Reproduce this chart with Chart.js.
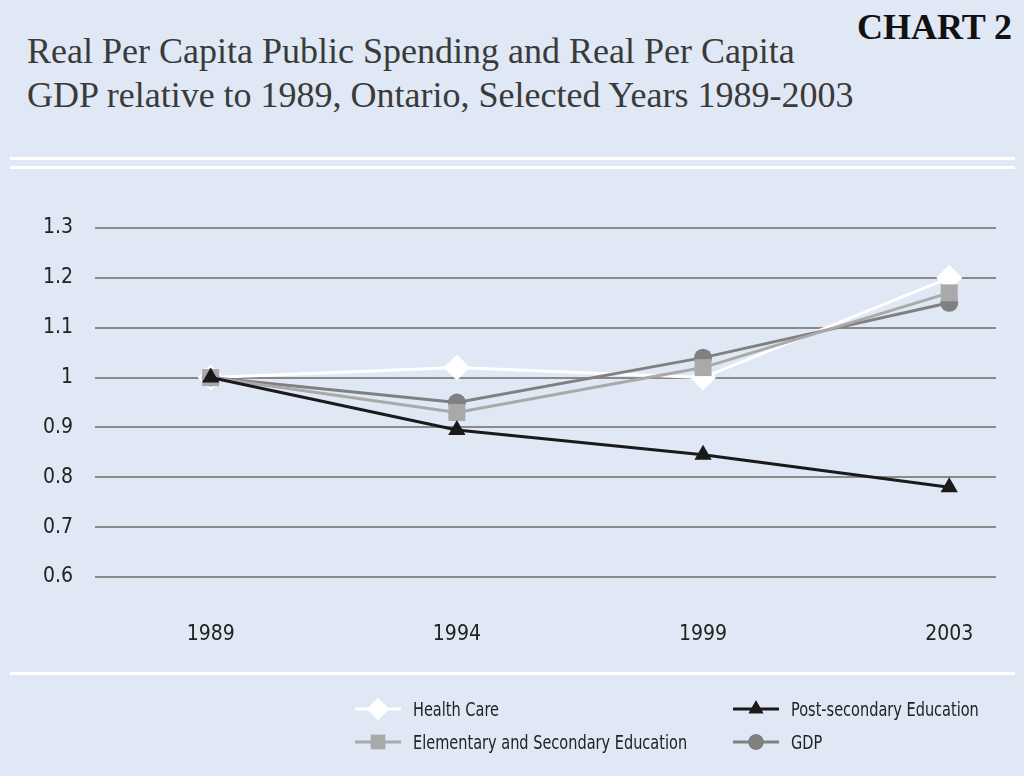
<!DOCTYPE html>
<html>
<head>
<meta charset="utf-8">
<script src="https://cdn.jsdelivr.net/npm/chart.js@4/dist/chart.umd.min.js"></script>
<style>
    html, body { margin: 0; padding: 0; }
    body { width: 1024px; height: 776px; background: #dfe8f4; position: relative; overflow: hidden; }
    #title { position: absolute; left: 27px; top: 29px; font-family: "Liberation Serif", serif; font-size: 36px; line-height: 44px; color: #3a3a3a; }
    #tag { position: absolute; right: 12px; top: 6px; font-family: "Liberation Serif", serif; font-weight: bold; font-size: 36px; color: #111; }
    .rule { position: absolute; left: 10px; width: 1005px; height: 3px; background: #fff; }
    #chartWrap { position: absolute; left: 0; top: 0; width: 1024px; height: 776px; }
    #legend { position: absolute; left: 0; top: 0; width: 1024px; font-family: "DejaVu Sans", sans-serif; font-stretch: condensed; font-size: 19px; color: #222; }
    .item { position: absolute; display: flex; align-items: center; height: 30px; white-space: nowrap; }
    .item canvas { margin-right: 12px; }
    .item span { display: inline-block; transform: scaleX(0.85); transform-origin: left center; }
</style>
</head>
<body>
<div id="tag">CHART 2</div>
<div id="title">Real Per Capita Public Spending and Real Per Capita<br>GDP relative to 1989, Ontario, Selected Years 1989-2003</div>
<div class="rule" style="top:157px"></div>
<div class="rule" style="top:166px"></div>
<div class="rule" style="top:672px"></div>
<div id="chartWrap"><canvas id="chart" width="1024" height="776"></canvas></div>
<div id="legend"></div>

<script>
// data
const years = ['1989', '1994', '1999', '2003'];
const healthCare = [1.0, 1.02, 1.0, 1.2];
const elemSecondary = [1.0, 0.93, 1.02, 1.17];
const postSecondary = [1.0, 0.895, 0.845, 0.78];
const gdp = [1.0, 0.95, 1.04, 1.15];
const yTicks = [0.6, 0.7, 0.8, 0.9, 1, 1.1, 1.2, 1.3];

const tickFont = '"DejaVu Sans", sans-serif';

function pts(values) {
    return values.map((v, i) => ({ x: i, y: v }));
}

const series = [
    { label: 'Health Care', data: healthCare, color: '#ffffff', style: 'rectRot', radius: 13, order: 4 },
    { label: 'Post-secondary Education', data: postSecondary, color: '#1a1a1a', style: 'triangle', radius: 10, order: 1 },
    { label: 'Elementary and Secondary Education', data: elemSecondary, color: '#a9a9a9', style: 'rect', radius: 12, order: 2 },
    { label: 'GDP', data: gdp, color: '#808080', style: 'circle', radius: 9, order: 3 }
];

const ctx = document.getElementById('chart').getContext('2d');
new Chart(ctx, {
    type: 'line',
    data: {
        datasets: series.map(s => ({
            label: s.label,
            data: pts(s.data),
            borderColor: s.color,
            backgroundColor: s.color,
            borderWidth: 3,
            pointStyle: s.style,
            pointRadius: s.radius,
            pointBorderWidth: 0,
            order: s.order,
            tension: 0
        }))
    },
    options: {
        responsive: false,
        animation: false,
        layout: { padding: { left: 0, right: 28, top: 228, bottom: 0 } },
        plugins: { legend: { display: false }, tooltip: { enabled: false } },
        scales: {
            x: {
                type: 'linear',
                min: -0.47,
                max: 3.19,
                afterBuildTicks: scale => { scale.ticks = years.map((y, i) => ({ value: i })); },
                afterFit: scale => { scale.height = 199; },
                grid: { display: false },
                border: { display: false },
                ticks: {
                    callback: v => years[v],
                    padding: 37,
                    color: '#222',
                    font: { family: tickFont, size: 21, weight: 'condensed' },
                    maxRotation: 0
                }
            },
            y: {
                min: 0.6,
                max: 1.3,
                afterBuildTicks: scale => { scale.ticks = yTicks.map(v => ({ value: v })); },
                afterFit: scale => { scale.width = 95; },
                grid: { color: '#8a8a8a', lineWidth: 2, drawTicks: false },
                border: { display: false },
                ticks: {
                    callback: v => String(v),
                    padding: 22,
                    color: '#222',
                    font: { family: tickFont, size: 21, weight: 'condensed' }
                }
            }
        }
    }
});

// legend: two columns, samples with line + marker
const legendPos = [
    { x: 355, y: 694 },
    { x: 733, y: 694 },
    { x: 355, y: 727 },
    { x: 733, y: 727 }
];
const legend = document.getElementById('legend');
series.forEach((s, i) => {
    const item = document.createElement('div');
    item.className = 'item';
    item.style.left = legendPos[i].x + 'px';
    item.style.top = legendPos[i].y + 'px';
    const c = document.createElement('canvas');
    c.width = 46; c.height = 30;
    const g = c.getContext('2d');
    g.strokeStyle = s.color;
    g.lineWidth = 3;
    g.beginPath(); g.moveTo(0, 15); g.lineTo(46, 15); g.stroke();
    g.fillStyle = s.color;
    Chart.helpers.drawPoint(g, { pointStyle: s.style, radius: s.radius * 0.85, borderWidth: 0 }, 23, 15);
    g.fill();
    item.appendChild(c);
    const t = document.createElement('span');
    t.textContent = s.label;
    item.appendChild(t);
    legend.appendChild(item);
});
</script>
</body>
</html>
